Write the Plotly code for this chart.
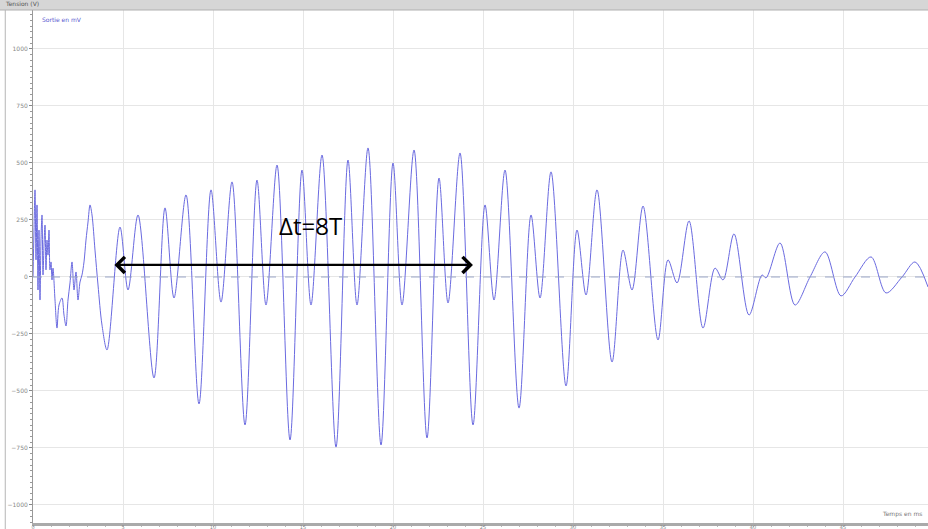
import plotly.graph_objects as go

# Signal (time in ms, voltage in mV)
t_ms = [0, 0.056, 0.111, 0.167, 0.222, 0.278, 0.333, 0.389, 0.444, 0.5, 0.556, 0.611, 0.667,
        0.722, 0.778, 0.833, 0.889, 0.944, 1.0, 1.056, 1.111, 1.222, 1.333, 1.444, 1.611, 1.722,
        1.833, 1.944, 2.056, 2.167, 2.278, 2.389, 2.5, 2.611, 2.722, 2.833, 2.944, 3.056, 3.167,
        3.278, 3.444, 3.611, 3.833,
        4.111, 4.833, 5.278, 5.833, 6.722, 7.333, 7.833, 8.5, 9.222, 9.889, 10.444, 11.056,
        11.778, 12.444, 12.944, 13.556, 14.278, 14.944, 15.444, 16.056, 16.833, 17.5, 18.0, 18.611,
        19.333, 20.0, 20.5, 21.167, 21.889, 22.556, 23.056, 23.722, 24.444, 25.111, 25.611, 26.222,
        27.0, 27.667, 28.167, 28.778, 29.611, 30.222, 30.722, 31.333, 32.167, 32.778, 33.278, 33.889,
        34.722, 35.278, 35.778, 36.444, 37.222, 37.889, 38.333, 38.944, 39.778, 40.5, 40.722, 41.5,
        42.333, 43.167, 44.0, 44.889, 45.667, 46.556, 47.389, 48.278, 49.0, 49.722]
u_mv = [0, 206, 382, 75, 316, -57, 206, -101, 162, 272, 9, 140, 228,
        31, 162, 96, 206, 31, 66, -13, 39, -101, -224, -123, -92, -167,
        -215, -101, -26, 66, -57, 22, -101, -22, 9, 66, 162, 241, 316,
        272, 118, -35, -211,
        -320, 219, -57, 272, -443, 303, -92, 360, -557, 382, -110, 417,
        -649, 425, -123, 491, -715, 469, -123, 535, -746, 513, -123, 566,
        -737, 500, -123, 557, -706, 434, -114, 544, -649, 316, -101, 469,
        -575, 272, -92, 461, -478, 206, -79, 382, -373, 118, -57, 311,
        -276, 75, -26, 246, -224, 39, -13, 189, -167, 9, -4, 149,
        -123, 0, 110, -83, 0, 88, -70, 0, 66, -44]

y_ticks = [-1000, -750, -500, -250, 0, 250, 500, 750, 1000]
x_ticks = [0, 5, 10, 15, 20, 25, 30, 35, 40, 45]

arrow_start_ms = 4.44
arrow_end_ms = 24.44
arrow_level_mv = 53
label_text = "Δt=8T"

fig = go.Figure()
fig.add_trace(go.Scatter(
    x=t_ms, y=u_mv, mode="lines",
    line=dict(color="#6a6ae0", width=1, shape="spline", smoothing=0.9),
    hoverinfo="skip", showlegend=False))

fig.update_layout(
    width=928, height=529,
    margin=dict(l=33, r=0, t=10, b=6, autoexpand=False),
    paper_bgcolor="white", plot_bgcolor="white",
    font=dict(family="DejaVu Sans", size=6, color="#777"),
    xaxis=dict(range=[0, 49.72], tickvals=x_ticks, showgrid=True, gridcolor="#e6e6e6",
               gridwidth=1, zeroline=False, showline=True, linecolor="#aaaaaa", linewidth=3,
               ticks="", ticklen=0, tickfont=dict(size=5, color="#888"),
               ticklabelstandoff=-3, automargin=False,
               minor=dict(dtick=1, ticks="outside", ticklen=1, tickcolor="#bbb")),
    yaxis=dict(range=[-1079, 1171], tickvals=y_ticks, showgrid=True, gridcolor="#e6e6e6",
               gridwidth=1, zeroline=False, showline=True, linecolor="#999", linewidth=1,
               ticks="outside", ticklen=3, tickcolor="#888", tickfont=dict(size=6, color="#888"),
               automargin=False,
               minor=dict(dtick=25, ticks="outside", ticklen=2, tickcolor="#999")),
)

# dashed zero line
fig.add_shape(type="line", xref="paper", yref="y", x0=0, x1=1, y0=0, y1=0,
              line=dict(color="#9aa6c8", width=1, dash="dash"))
# top grey bar
fig.add_shape(type="rect", xref="paper", yref="paper", x0=-0.04, x1=1.0,
              y0=1.0, y1=1.02, fillcolor="#d6d6d6", line=dict(width=0), layer="above")
fig.add_shape(type="line", xref="paper", yref="paper", x0=-0.04, x1=1.0, y0=1.0, y1=1.0,
              line=dict(color="#b0b0b0", width=1))
# left window border
fig.add_shape(type="line", xref="paper", yref="paper", x0=-0.031, x1=-0.031, y0=-0.02, y1=1.0,
              line=dict(color="#b5b5b5", width=1))

fig.add_annotation(xref="paper", yref="paper", x=-0.034, y=1.002, xanchor="left", yanchor="bottom",
                   text="Tension (V)", showarrow=False, font=dict(size=6, color="#555"))
fig.add_annotation(xref="paper", yref="paper", x=0.008, y=0.992, xanchor="left", yanchor="top",
                   text="Sortie en mV", showarrow=False, font=dict(size=6, color="#5a5ad0"))
fig.add_annotation(xref="paper", yref="paper", x=0.995, y=0.006, xanchor="right", yanchor="bottom",
                   text="Temps en ms", showarrow=False, font=dict(size=6, color="#777"))

fig.add_annotation(x=arrow_end_ms, y=arrow_level_mv, ax=arrow_start_ms, ay=arrow_level_mv,
                   xref="x", yref="y", axref="x", ayref="y", text="",
                   showarrow=True, arrowhead=4, startarrowhead=4, arrowside="end+start",
                   arrowwidth=2.2, arrowsize=1.4, startarrowsize=1.4, arrowcolor="black")
fig.add_annotation(x=15.4, y=228, xref="x", yref="y", text=label_text, showarrow=False,
                   font=dict(family="Open Sans", size=24, color="black"))

fig.write_html("out.html", config={"displayModeBar": False},
               post_script="document.body.style.margin='0';")
